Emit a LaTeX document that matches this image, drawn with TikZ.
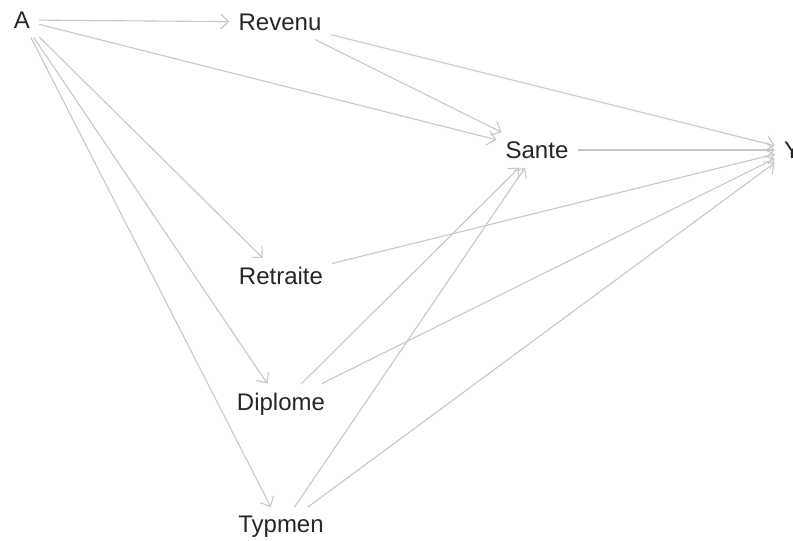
\documentclass[tikz,border=0pt]{standalone}
\usepackage{fontspec}
\setmainfont{Liberation Sans}
\usetikzlibrary{arrows.meta}
\begin{document}
\begin{tikzpicture}[x=1pt,y=-1pt,
  lbl/.style={font=\fontsize{24}{28}\selectfont, text=black!85, inner sep=9pt},
  edge/.style={draw=black!22, line width=1.1pt, -{Straight Barb[length=8pt,width=15pt]}}]
\useasboundingbox (0,0) rectangle (793,541);
\node[lbl] (A) at (22,20) {A};
\node[lbl] (Rev) at (280,22) {Revenu};
\node[lbl] (San) at (537,150) {Sante};
\node[lbl] (Y) at (792,150) {Y};
\node[lbl] (Ret) at (281,276) {Retraite};
\node[lbl] (Dip) at (281,404) {Diplome};
\node[lbl] (Typ) at (281,527) {Typmen};
\draw[edge] (A) -- (Rev);
\draw[edge] (A) -- (San);
\draw[edge] (A) -- (Ret);
\draw[edge] (A) -- (Dip);
\draw[edge] (A) -- (Typ);
\draw[edge] (Rev) -- (San);
\draw[edge] (Rev) -- (Y);
\draw[edge] (San) -- (Y);
\draw[edge] (Ret) -- (Y);
\draw[edge] (Dip) -- (San);
\draw[edge] (Dip) -- (Y);
\draw[edge] (Typ) -- (San);
\draw[edge] (Typ) -- (Y);
\end{tikzpicture}
\end{document}
